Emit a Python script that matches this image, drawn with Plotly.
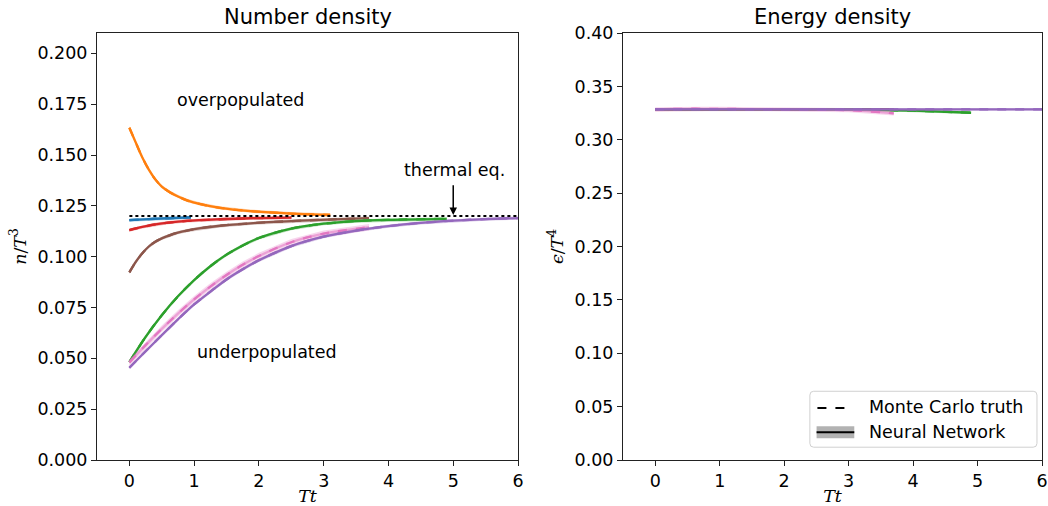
import plotly.graph_objects as go

# ---------------- data ----------------
eq_value = 0.12
eq_t = [0, 6]

blue_t = [0, 0.3, 0.6, 0.95]
blue_n = [0.118, 0.1185, 0.1189, 0.1193]
blue_e = [0.3285, 0.3285, 0.3286, 0.3286]

orange_t = [0, 0.1, 0.2, 0.3, 0.4, 0.5, 0.63, 0.75, 0.89, 1.1, 1.4, 1.87, 2.5, 3.1]
orange_n = [0.1634, 0.156, 0.1488, 0.1428, 0.138, 0.1345, 0.1316, 0.1296, 0.1277, 0.1258, 0.124,
            0.1224, 0.1212, 0.1205]
orange_e = [0.3285, 0.3285, 0.3285, 0.3286, 0.3286, 0.3286, 0.3286, 0.3286, 0.3285, 0.3285, 0.3285,
            0.3285, 0.3285, 0.3285]

red_t = [0, 0.2, 0.375, 0.6, 0.89, 1.4, 1.87, 2.5]
red_n = [0.1131, 0.1146, 0.1157, 0.1167, 0.1176, 0.1184, 0.1189, 0.1192]
red_e = [0.328, 0.3281, 0.3282, 0.3283, 0.3284, 0.3285, 0.3285, 0.3285]

brown_t = [0, 0.05, 0.1, 0.15, 0.2, 0.3, 0.4, 0.5, 0.63, 0.75, 0.89, 1.1, 1.4, 1.87, 2.64, 3.7]
brown_n = [0.0923, 0.095, 0.0975, 0.0997, 0.1017, 0.105, 0.1073, 0.109, 0.1106, 0.1118, 0.1128,
           0.114, 0.1152, 0.1164, 0.1177, 0.119]
brown_e = [0.3283, 0.3283, 0.3283, 0.3283, 0.3284, 0.3284, 0.3285, 0.3285, 0.3286, 0.3286, 0.3286,
           0.3286, 0.3286, 0.3286, 0.3286, 0.3286]

green_t = [0, 0.25, 0.5, 0.75, 1.0, 1.25, 1.5, 1.75, 2.0, 2.5, 3.0, 3.5, 4.0, 4.9]
green_n = [0.0482, 0.0605, 0.0712, 0.0805, 0.0885, 0.0953, 0.101, 0.1055, 0.1092, 0.1138, 0.1162,
           0.1175, 0.1181, 0.1186]
green_e = [0.3285, 0.3285, 0.3285, 0.3285, 0.3285, 0.3285, 0.3285, 0.3285, 0.3285, 0.3284, 0.3282,
           0.3278, 0.3272, 0.3253]

pink_t = [0, 0.25, 0.5, 0.75, 1.0, 1.25, 1.5, 1.75, 2.0, 2.5, 3.0, 3.7]
pink_n = [0.048, 0.0565, 0.0645, 0.072, 0.079, 0.0853, 0.091, 0.096, 0.1003, 0.1071, 0.1113, 0.1145]
pink_e = [0.3285, 0.3288, 0.329, 0.329, 0.3289, 0.3288, 0.3287, 0.3286, 0.3285, 0.3283, 0.3277, 0.3248]

purple_t = [0, 0.25, 0.5, 0.75, 1.0, 1.25, 1.5, 1.75, 2.0, 2.5, 3.0, 3.5, 4.0, 4.5, 5.0, 5.5, 6.0]
purple_n = [0.0454, 0.0535, 0.0614, 0.0692, 0.0765, 0.0828, 0.0888, 0.0938, 0.0982, 0.1052, 0.1098,
            0.1128, 0.115, 0.1166, 0.1177, 0.1185, 0.119]
purple_e = [0.3285, 0.3285, 0.3285, 0.3285, 0.3285, 0.3285, 0.3285, 0.3285, 0.3285,
            0.3285, 0.3285, 0.3285, 0.3285, 0.3285, 0.3285, 0.3285, 0.3285]

series = [
    ("#1f77b4", blue_t, blue_n, blue_e),
    ("#ff7f0e", orange_t, orange_n, orange_e),
    ("#d62728", red_t, red_n, red_e),
    ("#8c564b", brown_t, brown_n, brown_e),
    ("#2ca02c", green_t, green_n, green_e),
    ("#e377c2", pink_t, pink_n, pink_e),
    ("#9467bd", purple_t, purple_n, purple_e),
]
band_n = [0.0008, 0.0008, 0.0008, 0.0008, 0.0008, 0.0016, 0.0008]
band_e = [0.0012, 0.0012, 0.0012, 0.0012, 0.0012, 0.002, 0.0012]
nn_alpha = [1, 1, 1, 1, 1, 0.55, 1]

x_ticks = [0, 1, 2, 3, 4, 5, 6]
yn_ticks = [0, 0.025, 0.05, 0.075, 0.1, 0.125, 0.15, 0.175, 0.2]
ye_ticks = [0, 0.05, 0.1, 0.15, 0.2, 0.25, 0.3, 0.35, 0.4]


def rgba(hexc, a):
    h = hexc.lstrip("#")
    return "rgba(%d,%d,%d,%s)" % (int(h[0:2], 16), int(h[2:4], 16), int(h[4:6], 16), a)


fig = go.Figure()

for i, (color, t, n, e) in enumerate(series):
    for vals, xa, ya, bw in ((n, "x", "y", band_n[i]), (e, "x2", "y2", band_e[i])):
        up = [v + bw for v in vals]
        lo = [v - bw for v in vals]
        fig.add_trace(go.Scatter(x=list(t) + list(t)[::-1], y=up + lo[::-1], fill="toself",
                                 fillcolor=rgba(color, 0.3), line=dict(width=0), mode="lines",
                                 xaxis=xa, yaxis=ya, showlegend=False, hoverinfo="skip"))
        fig.add_trace(go.Scatter(x=t, y=vals, mode="lines",
                                 line=dict(color=rgba(color, nn_alpha[i]), width=2.3, shape="spline"),
                                 xaxis=xa, yaxis=ya, showlegend=False))
        fig.add_trace(go.Scatter(x=t, y=vals, mode="lines",
                                 line=dict(color=color, width=2.3, dash="dash", shape="spline"),
                                 xaxis=xa, yaxis=ya, showlegend=False))

fig.add_trace(go.Scatter(x=eq_t, y=[eq_value, eq_value], mode="lines",
                         line=dict(color="black", width=2, dash="dot"), xaxis="x", yaxis="y", showlegend=False))

font = "DejaVu Sans"
fs = 17.5
math_font = dict(family="DejaVu Serif", size=17.5, color="black")
axis_common = dict(showline=True, linecolor="#222222", linewidth=1, mirror=True, ticks="outside",
                   ticklen=5, tickcolor="#222222", showgrid=False, zeroline=False, automargin=False,
                   tickfont=dict(family=font, size=fs, color="black"))

fig.update_layout(
    width=1048, height=506, paper_bgcolor="white", plot_bgcolor="white",
    margin=dict(l=0, r=0, t=33, b=46), showlegend=False,
    xaxis=dict(domain=[97 / 1048, 518 / 1048], range=[-0.5, 6], tickvals=x_ticks, anchor="y",
               title=dict(text="<i>Tt</i>", font=math_font, standoff=5), **axis_common),
    yaxis=dict(domain=[0, 1], range=[0, 0.21], tickvals=yn_ticks, tickformat=".3f", anchor="x",
               title=dict(text="<i>n</i>/<i>T</i><sup>3</sup>", font=math_font, standoff=6),
               **axis_common),
    xaxis2=dict(domain=[623 / 1048, 1042 / 1048], range=[-0.5, 6], tickvals=x_ticks, anchor="y2",
                title=dict(text="<i>Tt</i>", font=math_font, standoff=5), **axis_common),
    yaxis2=dict(domain=[0, 1], range=[0, 0.4], tickvals=ye_ticks, tickformat=".2f", anchor="x2",
                title=dict(text="<i>ϵ</i>/<i>T</i><sup>4</sup>", font=math_font, standoff=6),
                **axis_common),
)

ann = []
ann.append(dict(text="Number density", x=0.5, y=1, xref="x domain", yref="y domain", yanchor="bottom",
                yshift=2, showarrow=False, font=dict(family=font, size=21, color="black")))
ann.append(dict(text="Energy density", x=0.5, y=1, xref="x2 domain", yref="y2 domain", yanchor="bottom",
                yshift=2, showarrow=False, font=dict(family=font, size=21, color="black")))
ann.append(dict(text="overpopulated", x=1.72, y=0.177, xref="x", yref="y", showarrow=False,
                yanchor="middle", font=dict(family=font, size=fs, color="black")))
ann.append(dict(text="underpopulated", x=2.12, y=0.053, xref="x", yref="y", showarrow=False,
                yanchor="middle", font=dict(family=font, size=fs, color="black")))
ann.append(dict(text="thermal eq.", x=5.02, y=0.1425, xref="x", yref="y", showarrow=False,
                yanchor="middle", font=dict(family=font, size=fs, color="black")))
ann.append(dict(text="", x=5, y=eq_value + 0.0005, xref="x", yref="y", ax=5, ay=0.1358,
                axref="x", ayref="y", showarrow=True, arrowhead=2, arrowsize=1, arrowwidth=1.5,
                arrowcolor="black"))
# legend texts
ann.append(dict(text="Monte Carlo truth", x=0.583, y=0.124, xref="x2 domain", yref="y2 domain",
                xanchor="left", yanchor="middle", showarrow=False, font=dict(family=font, size=fs, color="black")))
ann.append(dict(text="Neural Network", x=0.583, y=0.066, xref="x2 domain", yref="y2 domain",
                xanchor="left", yanchor="middle", showarrow=False, font=dict(family=font, size=fs, color="black")))
fig.update_layout(annotations=ann)

x0, x1, y0, y1 = 0.446, 0.988, 0.030, 0.161
rx, ry = 0.009, 0.009
legend_path = (f"M {x0+rx},{y0} L {x1-rx},{y0} Q {x1},{y0} {x1},{y0+ry} L {x1},{y1-ry} "
               f"Q {x1},{y1} {x1-rx},{y1} L {x0+rx},{y1} Q {x0},{y1} {x0},{y1-ry} "
               f"L {x0},{y0+ry} Q {x0},{y0} {x0+rx},{y0} Z")
shapes = [
    dict(type="path", xref="x2 domain", yref="y2 domain", path=legend_path,
         line=dict(color="#d0d0d0", width=1), fillcolor="rgba(255,255,255,0.8)", layer="above"),
    dict(type="line", xref="x2 domain", yref="y2 domain", x0=0.464, x1=0.545, y0=0.122, y1=0.122,
         line=dict(color="black", width=2, dash="dash"), layer="above"),
    dict(type="rect", xref="x2 domain", yref="y2 domain", x0=0.462, x1=0.552, y0=0.051, y1=0.079,
         line=dict(width=0), fillcolor="rgba(0,0,0,0.3)", layer="above"),
    dict(type="line", xref="x2 domain", yref="y2 domain", x0=0.462, x1=0.552, y0=0.065, y1=0.065,
         line=dict(color="black", width=2), layer="above"),
]
fig.update_layout(shapes=shapes)

fig.write_html("out.html", config={"displayModeBar": False},
               post_script="document.body.style.margin='0px';")
